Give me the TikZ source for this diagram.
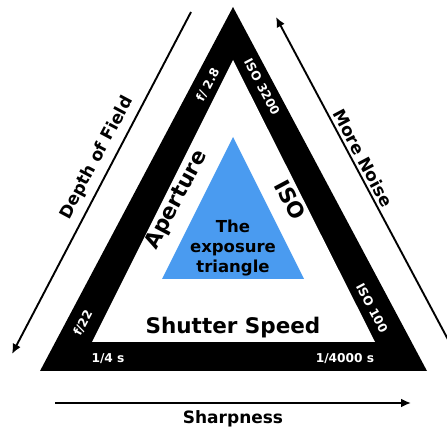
\documentclass[tikz,border=0pt]{standalone}
\usepackage{fontspec}
\setmainfont{DejaVu Sans}
\usetikzlibrary{arrows.meta}
\definecolor{tblue}{HTML}{4A9BF0}
\begin{document}
\begin{tikzpicture}[x=1pt,y=1pt,
  lbl/.style={font=\bfseries\fontsize{17}{20}\selectfont, inner sep=0pt},
  big/.style={font=\bfseries\fontsize{21.5}{24}\selectfont, inner sep=0pt},
  small/.style={font=\bfseries\fontsize{12.2}{14}\selectfont, text=white, inner sep=0pt},
  arr/.style={line width=1.9pt, -{Latex[length=10pt,width=9pt]}}]
\useasboundingbox (0,0) rectangle (447,431);
% triangles
\fill (233,424) -- (40,60) -- (427,60) -- cycle;
\fill[white] (233,371) -- (92,89) -- (375,89) -- cycle;
\fill[tblue] (233,294) -- (162,152) -- (304,152) -- cycle;
% arrows
\coordinate (dofA) at (191,419);
\coordinate (dofB) at (12,77);
\coordinate (mnA) at (452,84);
\coordinate (mnB) at (276,414);
\coordinate (shA) at (55,28);
\coordinate (shB) at (411,28);
\draw[arr] (dofA) -- (dofB);
\draw[arr] (mnA) -- (mnB);
\draw[arr] (shA) -- (shB);
% labels
\node[lbl, rotate=62] (dof) at (97,273) {Depth of Field};
\node[lbl, rotate=-62] (mn) at (363,273) {More Noise};
\node[lbl] (sh) at (233,12) {Sharpness};
\node[big, rotate=62] (ap) at (177,231) {Aperture};
\node[big, rotate=-62] (iso) at (290,231) {ISO};
\node[big] (ss) at (233,103) {Shutter Speed};
\node[lbl, align=center, font=\bfseries\fontsize{16.5}{20}\selectfont] (ex) at (233,183) {The\\exposure\\triangle};
\node[small, rotate=62] (f28) at (208,346) {f/ 2.8};
\node[small, rotate=-62] (i3200) at (262,344) {ISO 3200};
\node[small, rotate=62] (f22) at (83,108) {f/22};
\node[small, rotate=-62] (i100) at (372,123) {ISO 100};
\node[small] (s4) at (108,72) {1/4 s};
\node[small] (s4000) at (345,72) {1/4000 s};
\end{tikzpicture}
\end{document}
